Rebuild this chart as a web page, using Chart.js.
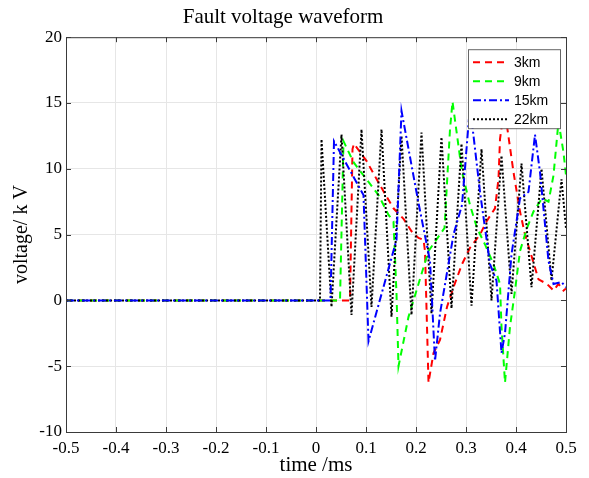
<!DOCTYPE html>
<html>
<head>
<meta charset="utf-8">
<title>Fault voltage waveform</title>
<script src="https://cdn.jsdelivr.net/npm/chart.js@4/dist/chart.umd.min.js"></script>
<style>
  html, body { margin: 0; padding: 0; background: #fff; }
  canvas { display: block; }
</style>
</head>
<body>
<canvas id="faultChart" width="589" height="478"></canvas>
<script>
// tick labels
const xTicks = [-0.5, -0.4, -0.3, -0.2, -0.1, 0, 0.1, 0.2, 0.3, 0.4, 0.5];
const xTickLabels = ['-0.5', '-0.4', '-0.3', '-0.2', '-0.1', '0', '0.1', '0.2', '0.3', '0.4', '0.5'];
const yTicks = [-10, -5, 0, 5, 10, 15, 20];

const seriesNames = ['3km', '9km', '15km', '22km'];

// 3km (time in ms, voltage in kV)
const t3 = [-0.5, 0.068, 0.073, 0.076, 0.101, 0.128, 0.155, 0.175, 0.191, 0.205, 0.215, 0.218, 0.222, 0.225,
  0.235, 0.248, 0.262, 0.275, 0.292, 0.308, 0.328, 0.341, 0.358, 0.365, 0.368, 0.376, 0.382, 0.395, 0.408,
  0.418, 0.432, 0.445, 0.462, 0.475, 0.485, 0.495, 0.5];
const v3 = [0, 0, 11.5, 11.9, 10.6, 8.75, 7, 6.2, 5.25, 4.75, 4.6, 3.75, -2, -6.25,
  -4, -3, -0.5, 1, 2.75, 4, 5, 6, 7, 9.25, 12.25, 14.5, 13.25, 9.75, 6.75,
  5, 3.25, 1.6, 1.25, 0.75, 1.25, 0.75, 0.9];

// 9km
const t9 = [-0.5, 0.048, 0.055, 0.075, 0.105, 0.125, 0.145, 0.155, 0.161, 0.165, 0.185, 0.225, 0.257,
  0.268, 0.273, 0.292, 0.308, 0.322, 0.338, 0.355, 0.368, 0.371, 0.378, 0.388, 0.398, 0.408, 0.422,
  0.435, 0.452, 0.465, 0.475, 0.485, 0.495, 0.5];
const v9 = [0, 0, 12.1, 10.5, 9, 8, 6.5, 6, 0.5, -5, -1.25, 3.75, 5.5,
  13, 15.1, 9.75, 7.25, 5.5, 4.25, 2.75, 1.25, -2, -6.25, -2, 0.75, 3.75, 5.5,
  6.75, 7.75, 7.5, 9.5, 13.6, 11.25, 9.5];

// 15km
const t15 = [-0.5, 0.029, 0.036, 0.095, 0.105, 0.161, 0.171, 0.205, 0.228, 0.238, 0.248, 0.275, 0.292,
  0.308, 0.328, 0.348, 0.361, 0.371, 0.378, 0.391, 0.408, 0.425, 0.438, 0.448, 0.465, 0.475, 0.491, 0.5];
const v15 = [0, 0, 12.1, 8, -3.1, 4.6, 14.4, 7.4, 3, -4.6, -1, 5, 7.25,
  14.8, 8.25, 2.75, 1.5, -4, -2.5, 3.5, 7.75, 8.25, 12.6, 9.75, 3, 1.25, 1.4, 1];

// 22km
const t22 = [-0.5, 0.008, 0.011, 0.031, 0.051, 0.071, 0.091, 0.111, 0.131, 0.151, 0.171, 0.191, 0.211,
  0.231, 0.251, 0.271, 0.291, 0.311, 0.331, 0.351, 0.371, 0.391, 0.411, 0.431, 0.451, 0.471, 0.491, 0.5];
const v22 = [0, 0, 12.25, -0.5, 12.6, -1.1, 13, -0.5, 13, -1.25, 12.5, -1.1, 12.75,
  -1, 12.4, -0.6, 11.9, -0.4, 11.5, 0, 11, 0.5, 10.4, 1, 10, 1.5, 9.2, 5.5];

const toPoints = (ts, vs) => ts.map((t, i) => ({ x: t, y: vs[i] }));

const serif = "'Liberation Serif', 'Times New Roman', serif";
const sans = "'Liberation Sans', Arial, sans-serif";

// Matlab style box with inward tick marks + legend drawn inside the axes
const frameAndLegend = {
    id: 'frameAndLegend',
    afterDatasetsDraw(chart) {
        const { ctx, chartArea: a, scales } = chart;
        ctx.save();
        ctx.strokeStyle = '#3a3a3a';
        ctx.lineWidth = 1;
        ctx.setLineDash([]);
        ctx.strokeRect(a.left + 0.5, a.top + 0.5, a.right - a.left, a.bottom - a.top);

        ctx.beginPath();
        xTicks.forEach(v => {
            const px = Math.round(scales.x.getPixelForValue(v)) + 0.5;
            ctx.moveTo(px, a.bottom); ctx.lineTo(px, a.bottom - 5);
            ctx.moveTo(px, a.top); ctx.lineTo(px, a.top + 5);
        });
        yTicks.forEach(v => {
            const py = Math.round(scales.y.getPixelForValue(v)) + 0.5;
            ctx.moveTo(a.left, py); ctx.lineTo(a.left + 5, py);
            ctx.moveTo(a.right, py); ctx.lineTo(a.right - 5, py);
        });
        ctx.stroke();

        // legend box
        const bx = a.right - 98, by = a.top + 12, bw = 92, bh = 79;
        ctx.fillStyle = '#fff';
        ctx.fillRect(bx, by, bw, bh);
        ctx.strokeStyle = '#666';
        ctx.strokeRect(bx + 0.5, by + 0.5, bw, bh);
        ctx.font = '14px ' + sans;
        ctx.textBaseline = 'middle';
        ctx.textAlign = 'left';
        chart.data.datasets.forEach((ds, i) => {
            const ly = by + 13 + i * 19;
            ctx.strokeStyle = ds.borderColor;
            ctx.lineWidth = 2;
            ctx.setLineDash(ds.borderDash);
            ctx.beginPath();
            ctx.moveTo(bx + 5, ly); ctx.lineTo(bx + 41, ly);
            ctx.stroke();
            ctx.setLineDash([]);
            ctx.fillStyle = '#000';
            ctx.fillText(ds.label, bx + 46, ly + 1);
        });
        ctx.restore();
    }
};

const ctx = document.getElementById('faultChart').getContext('2d');
new Chart(ctx, {
    type: 'line',
    data: {
        datasets: [
            { label: seriesNames[0], data: toPoints(t3, v3), borderColor: '#ff0000', borderDash: [7, 5], order: 3 },
            { label: seriesNames[1], data: toPoints(t9, v9), borderColor: '#00ff00', borderDash: [7, 5], order: 2 },
            { label: seriesNames[2], data: toPoints(t15, v15), borderColor: '#0000ff', borderDash: [8, 3, 2, 3], order: 0 },
            { label: seriesNames[3], data: toPoints(t22, v22), borderColor: '#000000', borderDash: [2, 2], order: 1 }
        ].map(ds => Object.assign(ds, { borderWidth: 2, pointRadius: 0, tension: 0, fill: false }))
    },
    options: {
        responsive: false,
        animation: false,
        devicePixelRatio: 1,
        layout: { padding: { left: 0, right: 23, top: 0, bottom: 0 } },
        plugins: {
            legend: { display: false },
            tooltip: { enabled: false },
            title: {
                display: true,
                text: 'Fault voltage waveform',
                color: '#000',
                font: { family: serif, size: 21, weight: 'normal' },
                padding: { top: 5, bottom: 7 }
            }
        },
        scales: {
            x: {
                type: 'linear',
                min: -0.5,
                max: 0.5,
                afterBuildTicks: s => { s.ticks = xTicks.map(v => ({ value: v })); },
                afterFit: s => { s.height = 46; },
                ticks: {
                    color: '#000',
                    font: { family: serif, size: 17 },
                    padding: 6,
                    maxRotation: 0,
                    callback: (v, i) => xTickLabels[i]
                },
                grid: { color: '#e6e6e6', drawTicks: false },
                border: { display: false },
                title: {
                    display: true,
                    text: 'time /ms',
                    color: '#000',
                    font: { family: serif, size: 21 },
                    padding: { top: 0, bottom: 0 }
                }
            },
            y: {
                min: -10,
                max: 20,
                afterBuildTicks: s => { s.ticks = yTicks.map(v => ({ value: v })); },
                afterFit: s => { s.width = 66; },
                ticks: {
                    color: '#000',
                    font: { family: serif, size: 17 },
                    padding: 4
                },
                grid: { color: '#e6e6e6', drawTicks: false },
                border: { display: false },
                title: {
                    display: true,
                    text: 'voltage/ k V',
                    color: '#000',
                    font: { family: serif, size: 20 },
                    padding: { top: 10, bottom: 0 }
                }
            }
        }
    },
    plugins: [frameAndLegend]
});
</script>
</body>
</html>
